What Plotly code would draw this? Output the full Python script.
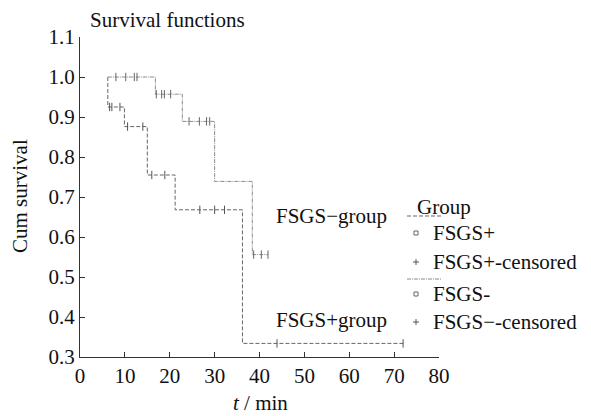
import plotly.graph_objects as go

# ---------------- data ----------------
# FSGS+ group: Kaplan-Meier steps
plus_t = [6.2, 6.2, 9.9, 15.0, 21.2, 36.2, 72.0]
plus_s = [1.0, 0.925, 0.876, 0.755, 0.668, 0.334, 0.334]
plus_cens_t = [6.6, 7.1, 8.9, 10.6, 14.0, 16.0, 18.9, 26.7, 30.0, 32.2, 43.9, 72.0]
plus_cens_s = [0.925, 0.925, 0.925, 0.876, 0.876, 0.755, 0.755, 0.668, 0.668, 0.668, 0.334, 0.334]

# FSGS- group
minus_t = [6.2, 16.8, 22.8, 30.0, 38.4, 41.9]
minus_s = [1.0, 0.957, 0.889, 0.739, 0.556, 0.556]
minus_cens_t = [8.0, 10.2, 12.1, 12.7, 17.0, 18.2, 18.8, 20.2, 24.3, 26.6, 28.2, 28.9, 38.7, 40.4, 41.9]
minus_cens_s = [1.0, 1.0, 1.0, 1.0, 0.957, 0.957, 0.957, 0.957, 0.889, 0.889, 0.889, 0.889, 0.556, 0.556, 0.556]

x_ticks = [0, 10, 20, 30, 40, 50, 60, 70, 80]
y_ticks = [0.3, 0.4, 0.5, 0.6, 0.7, 0.8, 0.9, 1.0, 1.1]

title_text = "Survival functions"
legend_title = "Group"
legend_labels = ["FSGS+", "FSGS+-censored", "FSGS-", "FSGS\u2212-censored"]
group_labels = ["FSGS\u2212group", "FSGS+group"]

# ---------------- styling / layout ----------------
W, H = 591, 416
OFF = 8                        # page body margin
L, R, T, B = 80, 439, 37, 357  # plot area in window pixels
FONT = "Times New Roman, Liberation Serif, DejaVu Serif, serif"
C_PLUS = "#666666"
C_MINUS = "#8a8a8a"


def px(x):
    return (x - L) / (R - L)


def py(y):
    return (B - y) / (B - T)


fig = go.Figure()
fig.add_trace(go.Scatter(x=plus_t, y=plus_s, mode="lines", line_shape="hv",
                         line=dict(color=C_PLUS, width=1, dash="4px,2px"),
                         showlegend=False, hoverinfo="skip"))
fig.add_trace(go.Scatter(x=minus_t, y=minus_s, mode="lines", line_shape="hv",
                         line=dict(color=C_MINUS, width=1, dash="4px,1px,1px,1px"),
                         showlegend=False, hoverinfo="skip"))
fig.add_trace(go.Scatter(x=plus_cens_t, y=plus_cens_s, mode="markers",
                         marker=dict(symbol="line-ns", size=6,
                                     line=dict(color="#555555", width=1)),
                         showlegend=False, hoverinfo="skip"))
fig.add_trace(go.Scatter(x=minus_cens_t, y=minus_cens_s, mode="markers",
                         marker=dict(symbol="line-ns", size=6,
                                     line=dict(color="#666666", width=1)),
                         showlegend=False, hoverinfo="skip"))

TXT = dict(size=21, family=FONT, color="#111")
TICK = dict(size=21, family=FONT, color="#111")
ann = []
ann.append(dict(text=title_text, x=px(88), y=py(20), xanchor="left", yanchor="middle", font=TXT))
ann.append(dict(text="Cum survival", x=px(20), y=py(196), textangle=-90,
                xanchor="center", yanchor="middle", font=TXT))
ann.append(dict(text="<i>t</i> / min", x=px(260), y=py(403), xanchor="center", yanchor="middle",
                font=TXT))
ann.append(dict(text=group_labels[0], x=px(274), y=py(216), xanchor="left", yanchor="middle",
                font=TXT))
ann.append(dict(text=group_labels[1], x=px(274), y=py(320), xanchor="left", yanchor="middle",
                font=TXT))
ann.append(dict(text=legend_title, x=px(415), y=py(207), xanchor="left", yanchor="middle",
                font=TXT))
leg_y = [233, 262, 294, 322]
for lab, yy in zip(legend_labels, leg_y):
    ann.append(dict(text=lab, x=px(431), y=py(yy), xanchor="left", yanchor="middle", font=TXT))
for a in ann:
    a.update(xref="paper", yref="paper", showarrow=False)

shapes = []
# legend line samples
shapes.append(dict(type="line", x0=px(407), x1=px(441), y0=py(216), y1=py(216),
                   line=dict(color=C_PLUS, width=1, dash="4px,2px")))
shapes.append(dict(type="line", x0=px(407), x1=px(441), y0=py(279), y1=py(279),
                   line=dict(color=C_MINUS, width=1, dash="4px,1px,1px,1px")))
# legend small squares
for yy in (leg_y[0], leg_y[2]):
    shapes.append(dict(type="rect", x0=px(414), x1=px(418), y0=py(yy + 2), y1=py(yy - 2),
                       line=dict(color="#666", width=1)))
# legend plus marks
for yy in (leg_y[1], leg_y[3]):
    shapes.append(dict(type="line", x0=px(413), x1=px(419), y0=py(yy), y1=py(yy),
                       line=dict(color="#555", width=1)))
    shapes.append(dict(type="line", x0=px(416), x1=px(416), y0=py(yy - 3), y1=py(yy + 3),
                       line=dict(color="#555", width=1)))
for s in shapes:
    s.update(xref="paper", yref="paper")

fig.update_layout(
    width=W - OFF, height=H - OFF,
    margin=dict(l=L - OFF, r=W - R, t=T - OFF, b=H - B, pad=0),
    paper_bgcolor="white", plot_bgcolor="white",
    font=dict(family=FONT, size=21, color="#111"),
    annotations=ann, shapes=shapes, showlegend=False,
)
fig.update_xaxes(range=[0, 80], tickvals=x_ticks, ticktext=[str(v) for v in x_ticks],
                 showgrid=False, zeroline=False, showline=True, linecolor="#333", linewidth=1,
                 ticks="inside", ticklen=5, tickcolor="#333",
                 tickfont=TICK)
fig.update_yaxes(range=[0.3, 1.1], tickvals=y_ticks, ticktext=[f"{v:.1f}" for v in y_ticks],
                 showgrid=False, zeroline=False, showline=True, linecolor="#333", linewidth=1,
                 ticks="inside", ticklen=5, tickcolor="#333",
                 tickfont=TICK)

fig.write_html("out.html")
